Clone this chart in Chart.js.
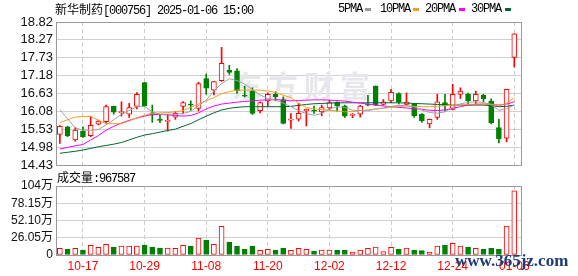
<!DOCTYPE html>
<html>
<head>
<meta charset="utf-8">
<script src="https://cdn.jsdelivr.net/npm/chart.js@4.4.1/dist/chart.umd.min.js"></script>
<style>
  body { margin: 0; background: #fff; width: 578px; height: 276px; overflow: hidden; position: relative; }
  canvas { position: absolute; left: 0; }
  #priceChart { top: 0; }
  #volChart { top: 170px; }
  .txt { position: absolute; white-space: nowrap; color: #000; font-family: "Liberation Mono", monospace; font-size: 12px; letter-spacing: -1.2px; line-height: 14px; }
  .cjk { font-family: "Noto Sans CJK SC", sans-serif; letter-spacing: 0; }
  .sq { position: absolute; width: 6px; height: 3px; }
  #site { position: absolute; left: 455px; top: 251px; font-family: "Liberation Serif", serif; font-weight: bold; font-size: 17px; color: #1d3b78; white-space: nowrap; }
</style>
</head>
<body>
<canvas id="priceChart" width="578" height="178"></canvas>
<canvas id="volChart" width="578" height="106"></canvas>

<div class="txt" style="left:55px;top:2px"><span class="cjk">新华制药</span>[000756] 2025-01-06 15:00</div>
<div class="txt" style="left:338px;top:2px">5PMA</div><div class="sq" style="left:365px;top:8px;background:#999"></div>
<div class="txt" style="left:380px;top:2px">10PMA</div><div class="sq" style="left:413px;top:8px;background:#f0a020"></div>
<div class="txt" style="left:425px;top:2px">20PMA</div><div class="sq" style="left:459px;top:8px;background:#ff00ff"></div>
<div class="txt" style="left:471px;top:2px">30PMA</div><div class="sq" style="left:505px;top:8px;background:#006633"></div>
<div class="txt" style="left:57px;top:170px"><span class="cjk">成交量</span>:967587</div>
<div id="site">www.365jz.com</div>

<script>
// trading days shown (index 0..59)
const dates = ['10-14','10-15','10-16','10-17','10-18','10-21','10-22','10-23','10-24','10-25',
  '10-28','10-29','10-30','10-31','11-01','11-04','11-05','11-06','11-07','11-08',
  '11-11','11-12','11-13','11-14','11-15','11-18','11-19','11-20','11-21','11-22',
  '11-25','11-26','11-27','11-28','11-29','12-02','12-03','12-04','12-05','12-06',
  '12-09','12-10','12-11','12-12','12-13','12-16','12-17','12-18','12-19','12-20',
  '12-23','12-24','12-25','12-26','12-27','12-30','12-31','01-02','01-03','01-06'];

const opens = [15.37,15.60,15.20,15.47,15.33,15.68,15.76,16.23,16.04,15.99,
  16.23,16.96,16.03,15.83,15.77,15.90,16.23,16.30,16.17,17.08,
  16.73,17.02,17.34,17.32,16.55,16.70,16.10,16.40,16.60,16.44,
  15.81,15.84,16.09,16.10,16.06,16.18,16.36,16.24,15.95,15.99,
  16.30,16.85,16.29,16.40,16.62,16.29,16.30,15.99,15.69,15.89,
  16.35,16.14,16.60,16.60,16.40,16.57,16.39,15.58,15.25,17.73];
const highs = [15.64,15.62,15.58,15.60,15.92,15.81,16.27,16.24,16.37,16.32,
  16.65,16.97,16.27,15.96,15.98,16.07,16.38,16.40,16.97,17.22,
  17.00,18.04,17.49,17.39,16.85,16.80,16.37,16.64,16.68,16.52,
  16.01,16.32,16.15,16.24,16.27,16.42,16.37,16.27,16.01,16.26,
  16.57,16.86,16.44,16.75,16.65,16.64,16.32,16.01,15.84,16.60,
  16.60,16.91,16.80,16.64,16.70,16.60,16.46,15.83,16.76,18.46];
const lows = [15.09,15.30,15.16,15.28,15.30,15.66,15.70,15.99,15.93,15.89,
  16.15,16.22,15.74,15.73,15.47,15.83,16.00,16.11,16.09,16.60,
  16.58,17.00,17.21,16.63,16.52,15.98,16.03,16.24,16.40,15.69,
  15.55,15.78,15.63,16.01,15.94,16.12,16.08,15.89,15.88,15.90,
  16.24,16.25,16.26,16.34,16.30,16.28,15.89,15.74,15.57,15.83,
  16.09,16.12,16.47,16.27,16.30,16.37,15.69,15.11,15.14,17.44];
const closes = [15.62,15.33,15.50,15.30,15.65,15.78,16.22,16.05,16.07,16.19,
  16.60,16.25,15.96,15.80,15.80,16.02,16.35,16.27,16.93,16.79,
  16.99,17.55,17.27,16.71,16.54,16.01,16.35,16.60,16.53,15.71,
  15.83,16.02,16.14,16.08,16.19,16.35,16.24,15.93,15.99,16.24,
  16.27,16.27,16.37,16.66,16.37,16.36,15.94,15.78,15.83,16.37,
  16.25,16.60,16.70,16.40,16.60,16.47,15.73,15.24,16.75,18.46];

// moving averages
const ma5 = [16.13,15.85,15.57,15.50,15.50,15.52,15.66,15.82,15.98,16.10,
  16.22,16.23,16.06,15.99,15.99,15.99,16.01,16.08,16.25,16.42,
  16.70,16.93,17.08,17.02,16.92,16.74,16.58,16.47,16.42,16.33,
  16.22,16.10,16.01,15.96,16.01,16.15,16.22,16.20,16.11,16.10,
  16.10,16.15,16.18,16.23,16.26,16.25,16.22,16.12,16.04,16.02,
  16.06,16.20,16.31,16.35,16.37,16.35,16.28,16.11,16.16,16.27];
const ma10 = [15.73,15.82,15.90,15.92,15.92,15.80,15.70,15.70,15.70,15.78,
  15.88,15.96,16.01,16.03,16.04,16.06,16.10,16.20,16.30,16.40,
  16.50,16.62,16.68,16.73,16.73,16.73,16.73,16.70,16.66,16.57,
  16.50,16.33,16.20,16.15,16.13,16.11,16.09,16.06,16.07,16.10,
  16.12,16.15,16.17,16.20,16.23,16.24,16.23,16.22,16.22,16.23,
  16.25,16.27,16.28,16.29,16.30,16.30,16.30,16.25,16.32,16.50];
const ma20 = [14.92,14.97,15.02,15.06,15.20,15.33,15.50,15.62,15.72,15.80,
  15.87,15.93,15.98,15.98,15.97,15.95,15.93,15.95,16.03,16.15,
  16.24,16.30,16.33,16.36,16.38,16.40,16.42,16.43,16.44,16.42,
  16.40,16.41,16.42,16.43,16.43,16.42,16.41,16.39,16.36,16.33,
  16.30,16.27,16.24,16.22,16.20,16.18,16.16,16.14,16.11,16.10,
  16.12,16.17,16.22,16.27,16.29,16.30,16.29,16.27,16.30,16.37];
const ma30 = [14.79,14.82,14.85,14.89,14.94,14.99,15.03,15.07,15.12,15.20,
  15.28,15.35,15.39,15.44,15.49,15.53,15.62,15.70,15.82,15.93,
  16.03,16.12,16.17,16.20,16.22,16.22,16.22,16.22,16.22,16.22,
  16.23,16.26,16.29,16.31,16.32,16.33,16.34,16.34,16.34,16.34,
  16.34,16.34,16.34,16.34,16.34,16.33,16.32,16.31,16.30,16.29,
  16.28,16.27,16.27,16.27,16.27,16.27,16.25,16.22,16.23,16.27];

// volume in 万 shares, and whether the bar is drawn red (1) or green (0)
const volumes = [10.1,9.0,10.1,7.5,14.6,11.6,16.1,12.1,13.6,13.6,
  13.6,15.1,12.1,10.6,10.6,10.1,14.6,13.6,25.6,22.6,
  16.1,43.2,19.6,13.6,9.0,13.6,7.0,8.5,7.5,10.6,
  7.0,10.0,8.5,6.0,7.5,7.5,7.5,7.5,4.5,7.5,
  10.0,12.0,5.0,11.6,9.0,10.6,7.5,6.5,4.5,13.6,
  15.1,17.6,13.6,12.1,10.1,9.0,10.1,8.5,43.5,96.76];
const volUp = [1,0,1,0,1,1,1,0,1,1, 1,0,0,0,1,1,1,0,1,0, 1,1,0,0,0,0,1,1,0,0,
  1,1,1,0,1,1,0,0,1,1, 1,1,1,1,0,1,0,0,1,1, 0,1,1,0,1,0,0,0,1,1];

const xTickIdx = [3, 11, 19, 27, 35, 43, 51, 59];
const priceTicks = ['14.43','14.98','15.53','16.08','16.63','17.18','17.73','18.27','18.82'];
const volTickValues = [0, 26.05, 52.10, 78.15, 104.2];
const volTicks = ['0','26.05万','52.10万','78.15万','104万'];

const RED = '#ff0000';
const GREEN = '#008000';
const labelFont = { family: '"Liberation Sans", "Noto Sans CJK SC", sans-serif', size: 12 };

const boxPlugin = {
    id: 'box',
    afterDraw(chart) {
        const { ctx, chartArea: a } = chart;
        ctx.save();
        ctx.strokeStyle = '#999';
        ctx.lineWidth = 1;
        ctx.strokeRect(Math.round(a.left) + 0.5, Math.round(a.top) + 0.5,
            Math.round(a.right - a.left) - 1, Math.round(a.bottom - a.top));
        ctx.restore();
    }
};

// faint site mark behind the candles
const markPlugin = {
    id: 'mark',
    beforeDatasetsDraw(chart) {
        const ctx = chart.ctx;
        ctx.save();
        ctx.font = 'bold 30px "Noto Sans CJK SC"';
        ctx.fillStyle = '#e6e6ec';
        ctx.textBaseline = 'alphabetic';
        '东方财富'.split('').forEach((ch, k) => ctx.fillText(ch, 232 + k * 36, 97));
        ctx.restore();
    }
};

function xAxis(showLabels) {
    return {
        type: 'linear', min: -0.5, max: 60, offset: false,
        afterBuildTicks: s => { s.ticks = xTickIdx.map(v => ({ value: v })); },
        ticks: { display: showLabels, autoSkip: false, maxRotation: 0, padding: 4, color: RED, font: labelFont,
            callback: v => dates[v] },
        grid: { color: '#cccccc', drawTicks: false, offset: false },
        border: { display: false, dash: [4, 3] },
        afterFit: s => { s.height = showLabels ? 21 : 0; }
    };
}

function yAxis(min, max, values, labels, font) {
    return {
        min: min, max: max,
        afterBuildTicks: s => { s.ticks = values.map(v => ({ value: v })); },
        ticks: { autoSkip: false, callback: (v, i) => labels[i], color: '#111', padding: 3, font: font },
        grid: { color: '#d0d0d0', drawTicks: false },
        border: { display: false },
        afterFit: s => { s.width = 56; }
    };
}

const candleColor = closes.map((c, i) => c >= opens[i] ? RED : GREEN);

const priceChart = new Chart(document.getElementById('priceChart'), {
    type: 'bar',
    data: {
        datasets: [
            { type: 'line', label: '5PMA', data: ma5.map((v, i) => ({ x: i, y: v })), borderColor: '#a0a0a0', borderWidth: 1, pointRadius: 0, order: -4 },
            { type: 'line', label: '10PMA', data: ma10.map((v, i) => ({ x: i, y: v })), borderColor: '#f0a020', borderWidth: 1, pointRadius: 0, order: -3 },
            { type: 'line', label: '20PMA', data: ma20.map((v, i) => ({ x: i, y: v })), borderColor: '#ff00ff', borderWidth: 1, pointRadius: 0, order: -2 },
            { type: 'line', label: '30PMA', data: ma30.map((v, i) => ({ x: i, y: v })), borderColor: '#006633', borderWidth: 1, pointRadius: 0, order: -1 },
            {
                label: 'body', order: 0, grouped: false, barThickness: 5, minBarLength: 1,
                data: opens.map((o, i) => ({ x: i, y: [o, closes[i]] })),
                backgroundColor: closes.map((c, i) => c >= opens[i] ? '#ffffff' : GREEN),
                borderColor: candleColor, borderWidth: 1, borderSkipped: false
            },
            {
                label: 'wick', order: 1, grouped: false, barThickness: 1,
                data: lows.map((l, i) => ({ x: i, y: [l, highs[i]] })),
                backgroundColor: candleColor, borderWidth: 0
            }
        ]
    },
    options: {
        responsive: false, animation: false, devicePixelRatio: 1,
        layout: { padding: { top: 22, right: 56, bottom: 13, left: 0 } },
        plugins: { legend: { display: false }, tooltip: { enabled: false } },
        scales: {
            x: xAxis(false),
            y: yAxis(14.43, 18.82, priceTicks.map(t => parseFloat(t)), priceTicks,
                { family: '"Liberation Sans", sans-serif', size: 13 })
        }
    },
    plugins: [markPlugin, boxPlugin]
});

const volChart = new Chart(document.getElementById('volChart'), {
    type: 'bar',
    data: {
        datasets: [{
            label: 'volume', grouped: false, barThickness: 5,
            data: volumes.map((v, i) => ({ x: i, y: v })),
            backgroundColor: volUp.map(u => u ? '#ffffff' : GREEN),
            borderColor: volUp.map(u => u ? RED : GREEN),
            borderWidth: 1, borderSkipped: false
        }]
    },
    options: {
        responsive: false, animation: false, devicePixelRatio: 1,
        layout: { padding: { top: 16, right: 56, bottom: 0, left: 0 } },
        plugins: { legend: { display: false }, tooltip: { enabled: false } },
        scales: {
            x: xAxis(true),
            y: yAxis(0, 104.2, volTickValues, volTicks, labelFont)
        }
    },
    plugins: [boxPlugin]
});
</script>
</body>
</html>
